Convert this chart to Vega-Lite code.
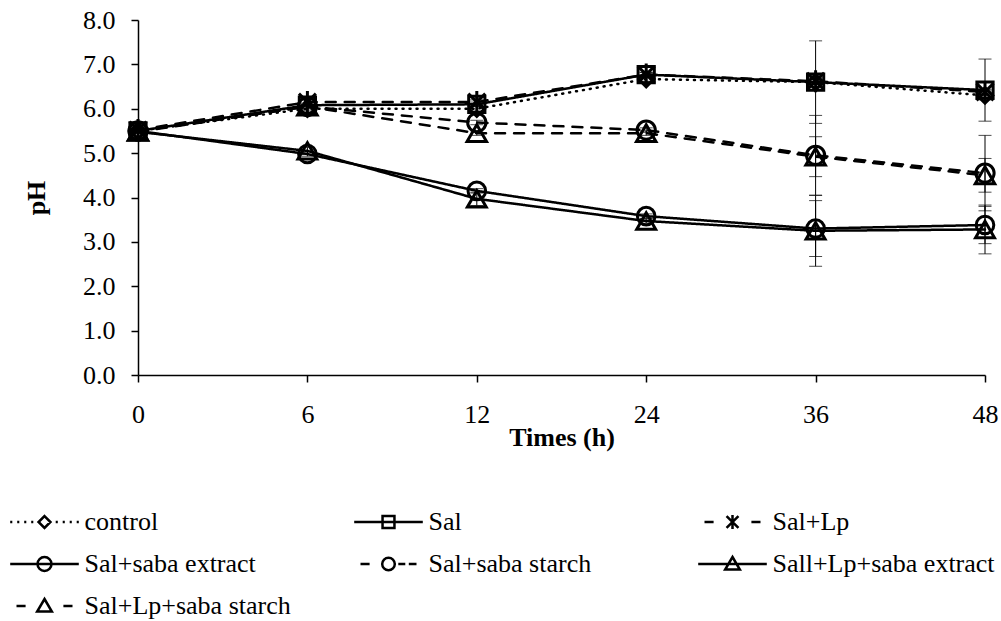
{
  "$schema": "https://vega.github.io/schema/vega-lite/v6.json",
  "autosize": "none",
  "width": 847,
  "height": 355,
  "padding": {"left": 138, "top": 20, "right": 16, "bottom": 246},
  "background": "white",
  "data": {
    "values": [
      {"series": "control", "time": 0, "ph": 5.50, "err": 0.02},
      {"series": "control", "time": 6, "ph": 6.00, "err": 0.05},
      {"series": "control", "time": 12, "ph": 6.00, "err": 0.05},
      {"series": "control", "time": 24, "ph": 6.67, "err": 0.05},
      {"series": "control", "time": 36, "ph": 6.60, "err": 0.10},
      {"series": "control", "time": 48, "ph": 6.30, "err": 0.10},
      {"series": "Sal", "time": 0, "ph": 5.50, "err": 0.02},
      {"series": "Sal", "time": 6, "ph": 6.08, "err": 0.05},
      {"series": "Sal", "time": 12, "ph": 6.10, "err": 0.05},
      {"series": "Sal", "time": 24, "ph": 6.77, "err": 0.05},
      {"series": "Sal", "time": 36, "ph": 6.60, "err": 0.93},
      {"series": "Sal", "time": 48, "ph": 6.42, "err": 0.70},
      {"series": "Sal+Lp", "time": 0, "ph": 5.52, "err": 0.02},
      {"series": "Sal+Lp", "time": 6, "ph": 6.15, "err": 0.05},
      {"series": "Sal+Lp", "time": 12, "ph": 6.15, "err": 0.05},
      {"series": "Sal+Lp", "time": 24, "ph": 6.77, "err": 0.05},
      {"series": "Sal+Lp", "time": 36, "ph": 6.62, "err": 0.05},
      {"series": "Sal+Lp", "time": 48, "ph": 6.38, "err": 0.05},
      {"series": "Sal+saba extract", "time": 0, "ph": 5.50, "err": 0.02},
      {"series": "Sal+saba extract", "time": 6, "ph": 4.98, "err": 0.05},
      {"series": "Sal+saba extract", "time": 12, "ph": 4.15, "err": 0.05},
      {"series": "Sal+saba extract", "time": 24, "ph": 3.58, "err": 0.05},
      {"series": "Sal+saba extract", "time": 36, "ph": 3.30, "err": 0.63},
      {"series": "Sal+saba extract", "time": 48, "ph": 3.38, "err": 0.42},
      {"series": "Sal+saba starch", "time": 0, "ph": 5.50, "err": 0.02},
      {"series": "Sal+saba starch", "time": 6, "ph": 6.05, "err": 0.05},
      {"series": "Sal+saba starch", "time": 12, "ph": 5.69, "err": 0.05},
      {"series": "Sal+saba starch", "time": 24, "ph": 5.52, "err": 0.05},
      {"series": "Sal+saba starch", "time": 36, "ph": 4.95, "err": 0.90},
      {"series": "Sal+saba starch", "time": 48, "ph": 4.55, "err": 0.85},
      {"series": "Sall+Lp+saba extract", "time": 0, "ph": 5.48, "err": 0.02},
      {"series": "Sall+Lp+saba extract", "time": 6, "ph": 5.05, "err": 0.08},
      {"series": "Sall+Lp+saba extract", "time": 12, "ph": 3.97, "err": 0.15},
      {"series": "Sall+Lp+saba extract", "time": 24, "ph": 3.47, "err": 0.05},
      {"series": "Sall+Lp+saba extract", "time": 36, "ph": 3.25, "err": 0.80},
      {"series": "Sall+Lp+saba extract", "time": 48, "ph": 3.28, "err": 0.55},
      {"series": "Sal+Lp+saba starch", "time": 0, "ph": 5.48, "err": 0.02},
      {"series": "Sal+Lp+saba starch", "time": 6, "ph": 6.05, "err": 0.05},
      {"series": "Sal+Lp+saba starch", "time": 12, "ph": 5.45, "err": 0.05},
      {"series": "Sal+Lp+saba starch", "time": 24, "ph": 5.45, "err": 0.05},
      {"series": "Sal+Lp+saba starch", "time": 36, "ph": 4.92, "err": 0.45},
      {"series": "Sal+Lp+saba starch", "time": 48, "ph": 4.50, "err": 0.38}
    ]
  },
  "encoding": {
    "x": {
      "field": "time",
      "type": "ordinal",
      "scale": {"type": "point", "padding": 0, "domain": [0, 6, 12, 24, 36, 48]},
      "axis": {
        "title": "Times (h)",
        "labelAngle": 0,
        "tickSize": 7,
        "labelPadding": 19,
        "titlePadding": -3
      }
    },
    "y": {
      "field": "ph",
      "type": "quantitative",
      "scale": {"domain": [0, 8], "nice": false, "zero": true},
      "axis": {
        "title": "pH",
        "values": [0, 1, 2, 3, 4, 5, 6, 7, 8],
        "format": ".1f",
        "tickSize": 7,
        "labelPadding": 16,
        "titlePadding": 33
      }
    }
  },
  "layer": [
    {
      "mark": {
        "type": "errorbar",
        "color": "black",
        "ticks": {"size": 13, "thickness": 1, "color": "black"},
        "rule": {"strokeWidth": 1, "color": "black"}
      },
      "encoding": {
        "y": {"field": "ph", "type": "quantitative"},
        "yError": {"field": "err"},
        "detail": {"field": "series", "type": "nominal"}
      }
    },
    {
      "mark": {"type": "line", "color": "black", "strokeWidth": 2.5, "strokeCap": "round"},
      "encoding": {
        "detail": {"field": "series", "type": "nominal"},
        "strokeDash": {
          "field": "series",
          "type": "nominal",
          "scale": {
            "domain": ["control", "Sal", "Sal+Lp", "Sal+saba extract", "Sal+saba starch", "Sall+Lp+saba extract", "Sal+Lp+saba starch"],
            "range": [[1, 6], [1, 0], [10, 9], [1, 0], [10, 9], [1, 0], [10, 9]]
          },
          "legend": null
        }
      }
    },
    {
      "mark": {"type": "point", "filled": false, "color": "black", "strokeWidth": 3, "opacity": 1},
      "encoding": {
        "shape": {
          "field": "series",
          "type": "nominal",
          "scale": {
            "domain": ["control", "Sal", "Sal+Lp", "Sal+saba extract", "Sal+saba starch", "Sall+Lp+saba extract", "Sal+Lp+saba starch"],
            "range": ["diamond", "square", "M-1,-1L1,1M-1,1L1,-1M0,-1.3V1.3", "circle", "circle", "triangle-up", "triangle-up"]
          },
          "legend": null
        },
        "size": {
          "field": "series",
          "type": "nominal",
          "scale": {
            "domain": ["control", "Sal", "Sal+Lp", "Sal+saba extract", "Sal+saba starch", "Sall+Lp+saba extract", "Sal+Lp+saba starch"],
            "range": [240, 380, 380, 580, 580, 700, 700]
          },
          "legend": null
        }
      }
    },
    {
      "mark": {"type": "point", "filled": false, "color": "black", "opacity": 0, "size": 196, "strokeWidth": 2.5},
      "encoding": {
        "shape": {
          "field": "series",
          "type": "nominal",
          "scale": {
            "domain": ["control", "Sal", "Sal+Lp", "Sal+saba extract", "Sal+saba starch", "Sall+Lp+saba extract", "Sal+Lp+saba starch"],
            "range": [
              "M-4.9,0H-4.6M-3.9,0H-3.6M-2.9,0H-2.6M-1.9,0H-1.6M1.6,0H1.9M2.6,0H2.9M3.6,0H3.9M4.6,0H4.9M0,-0.85L0.85,0L0,0.85L-0.85,0Z",
              "M-4.9,0H4.9M-0.85,-0.85H0.85V0.85H-0.85Z",
              "M-4,0H-2.7M2.7,0H4M-0.85,-0.85L0.85,0.85M-0.85,0.85L0.85,-0.85M0,-1V1",
              "M-4.9,0H4.9M1,0A1,1 0 1,1 -1,0A1,1 0 1,1 1,0Z",
              "M-4,0H-2.7M1.4,0H2.4M2.9,0H4M0.9,0A0.9,0.9 0 1,1 -0.9,0A0.9,0.9 0 1,1 0.9,0Z",
              "M-4.9,0H4.9M0,-1L1.05,0.8H-1.05Z",
              "M-4,0H-2.7M2.7,0H4M0,-1L1.05,0.8H-1.05Z"
            ]
          },
          "legend": {
            "orient": "none",
            "direction": "horizontal",
            "legendX": -138,
            "legendY": 489,
            "columns": 3,
            "gridAlign": "all",
            "columnPadding": 37,
            "rowPadding": 16,
            "padding": 0,
            "title": null,
            "symbolSize": 196,
            "symbolStrokeWidth": 2.5,
            "symbolStrokeColor": "black",
            "symbolFillColor": "transparent",
            "symbolOpacity": 1,
            "symbolOffset": 31.5,
            "labelOffset": 27,
            "labelFont": "Liberation Serif",
            "labelFontSize": 26,
            "labelColor": "black",
            "labelLimit": 400
          }
        }
      }
    }
  ],
  "resolve": {"scale": {"shape": "independent", "size": "independent", "strokeDash": "independent"}},
  "config": {
    "view": {"stroke": null},
    "font": "Liberation Serif",
    "axis": {
      "grid": false,
      "domainColor": "black",
      "domainWidth": 1.5,
      "tickColor": "black",
      "tickWidth": 1.5,
      "labelFont": "Liberation Serif",
      "labelFontSize": 26,
      "labelColor": "black",
      "titleFont": "Liberation Serif",
      "titleFontSize": 26,
      "titleFontWeight": "bold",
      "titleColor": "black"
    }
  }
}
